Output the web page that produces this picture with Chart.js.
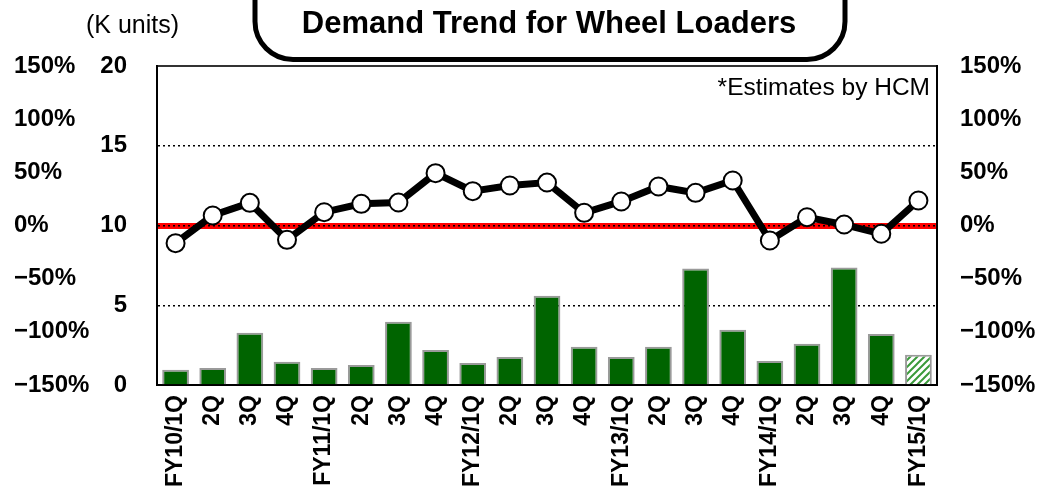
<!DOCTYPE html>
<html lang="en">
<head>
  <meta charset="UTF-8">
  <title>Demand Trend for Wheel Loaders</title>
  <script src="https://cdn.jsdelivr.net/npm/chart.js"></script>
  <style>
    html, body { margin: 0; padding: 0; background: #fff; }
    #wrap { width: 1044px; height: 503px; position: relative; }
  </style>
</head>
<body>
  <div id="wrap"><canvas id="chart"></canvas></div>
  <script>
    // Quarters on the x axis
    const quarters = [
      'FY10/1Q', '2Q', '3Q', '4Q',
      'FY11/1Q', '2Q', '3Q', '4Q',
      'FY12/1Q', '2Q', '3Q', '4Q',
      'FY13/1Q', '2Q', '3Q', '4Q',
      'FY14/1Q', '2Q', '3Q', '4Q',
      'FY15/1Q'
    ]
    // Demand in K units (bars, left axis)
    const demandK = [0.95, 1.07, 3.27, 1.45, 1.07, 1.26, 3.96, 2.2, 1.38, 1.76, 5.6, 2.4,
      1.76, 2.4, 7.3, 3.46, 1.5, 2.58, 7.36, 3.2, 1.89]
    // Year-on-year change in % (line, right axis)
    const yoyPct = [-16.6, 9.4, 21.3, -13.5, 12.5, 20.4, 21.6, 49.2, 32.3, 37.6, 40.4, 11.9,
      22.6, 36.7, 30.7, 42.3, -14.1, 7.8, 0.9, -7.8, 23.5]
    // Last quarter is an estimate (hatched bar)
    const estimated = [false, false, false, false, false, false, false, false, false, false, false,
      false, false, false, false, false, false, false, false, false, true]
    // Axis ticks
    const unitTicks = [0, 5, 10, 15, 20]
    const pctTicks = [-150, -100, -50, 0, 50, 100, 150]

    const fmtPct = v => (v < 0 ? '\u2212' + Math.abs(v) : v) + '%'

    // hatched fill for the estimate bar
    function makeHatch() {
      const c = document.createElement('canvas')
      c.width = 7
      c.height = 7
      const g = c.getContext('2d')
      g.fillStyle = '#ffffff'
      g.fillRect(0, 0, 7, 7)
      g.strokeStyle = '#3a9a3a'
      g.lineWidth = 2
      g.beginPath()
      g.moveTo(-1, 8); g.lineTo(8, -1)
      g.moveTo(-4, 4); g.lineTo(4, -4)
      g.moveTo(3, 11); g.lineTo(11, 3)
      g.stroke()
      return g.createPattern(c, 'repeat')
    }
    const hatch = makeHatch()
    const barColors = estimated.map(e => e ? hatch : '#006400')

    // title box and loose texts
    const decorations = {
      id: 'decorations',
      afterDraw(chart) {
        const ctx = chart.ctx
        ctx.save()
        // rounded title box, top edge lies above the picture
        const l = 255, r = 845, t = -60, b = 59.5, rad = 38
        ctx.lineWidth = 5
        ctx.strokeStyle = '#000'
        ctx.beginPath()
        ctx.moveTo(l, t)
        ctx.lineTo(l, b - rad)
        ctx.arcTo(l, b, l + rad, b, rad)
        ctx.lineTo(r - rad, b)
        ctx.arcTo(r, b, r, b - rad, rad)
        ctx.lineTo(r, t)
        ctx.stroke()

        ctx.fillStyle = '#000'
        ctx.textBaseline = 'alphabetic'
        ctx.textAlign = 'center'
        ctx.font = 'bold 31px "Liberation Sans", Arial, sans-serif'
        ctx.fillText('Demand Trend for Wheel Loaders', 549, 33)

        ctx.textAlign = 'left'
        ctx.font = '25px "Liberation Sans", Arial, sans-serif'
        ctx.fillText('(K units)', 86, 33)

        ctx.textAlign = 'right'
        ctx.font = '24.5px "Liberation Sans", Arial, sans-serif'
        ctx.fillText('*Estimates by HCM', 930, 95)
        ctx.restore()
      }
    }

    const tickFont = { family: '"Liberation Sans", Arial, sans-serif', weight: 'bold', size: 24 }

    new Chart(document.getElementById('chart'), {
      type: 'bar',
      data: {
        labels: quarters,
        datasets: [
          {
            type: 'line',
            label: 'YoY',
            data: yoyPct,
            yAxisID: 'yPct',
            order: 0,
            borderColor: '#000',
            borderWidth: 7,
            tension: 0,
            pointRadius: 9,
            pointBackgroundColor: '#fff',
            pointBorderColor: '#000',
            pointBorderWidth: 2
          },
          {
            type: 'bar',
            label: 'Demand',
            data: demandK,
            yAxisID: 'yK',
            order: 1,
            backgroundColor: barColors,
            borderColor: '#9a9a9a',
            borderWidth: 2,
            barPercentage: 0.72,
            categoryPercentage: 1
          }
        ]
      },
      options: {
        responsive: true,
        maintainAspectRatio: false,
        animation: false,
        layout: { padding: { left: 14, right: 0, top: 66, bottom: 0 } },
        plugins: {
          legend: { display: false },
          tooltip: { enabled: false }
        },
        scales: {
          x: {
            position: 'bottom',
            afterFit: s => { s.height = 118 },
            grid: { display: false, drawTicks: false },
            border: { display: true, color: '#000', width: 2 },
            ticks: {
              autoSkip: false,
              maxRotation: 90,
              minRotation: 90,
              padding: 10,
              color: '#000',
              font: { family: '"Liberation Sans", Arial, sans-serif', weight: 'bold', size: 23 }
            }
          },
          xTop: {
            position: 'top',
            type: 'category',
            afterFit: s => { s.height = 0 },
            grid: { display: false, drawTicks: false },
            ticks: { display: false },
            border: { display: true, color: '#333', width: 2 }
          },
          yPctL: {
            position: 'left',
            weight: 2,
            min: -150,
            max: 150,
            afterFit: s => { s.width = 83 },
            afterBuildTicks: s => { s.ticks = pctTicks.map(v => ({ value: v })) },
            grid: { display: false, drawTicks: false },
            border: { display: false },
            ticks: { crossAlign: 'far', color: '#000', font: tickFont, callback: fmtPct }
          },
          yK: {
            position: 'left',
            weight: 1,
            min: 0,
            max: 20,
            afterFit: s => { s.width = 60 },
            afterBuildTicks: s => { s.ticks = unitTicks.map(v => ({ value: v })) },
            grid: {
              drawTicks: false,
              z: -1,
              lineWidth: 1.5,
              color: ctx => (ctx.tick && (ctx.tick.value === 0 || ctx.tick.value === 20)) ? 'rgba(0,0,0,0)' : '#000'
            },
            border: { display: true, color: '#000', width: 2, dash: [2, 3] },
            ticks: { padding: 30, color: '#000', font: { family: '"Liberation Sans", Arial, sans-serif', weight: 'bold', size: 24 } }
          },
          yPct: {
            position: 'right',
            min: -150,
            max: 150,
            afterFit: s => { s.width = 107 },
            afterBuildTicks: s => { s.ticks = pctTicks.map(v => ({ value: v })) },
            grid: {
              drawTicks: false,
              z: -2,
              color: ctx => (ctx.tick && ctx.tick.value === 0) ? '#ff0000' : 'rgba(0,0,0,0)',
              lineWidth: ctx => (ctx.tick && ctx.tick.value === 0) ? 6 : 0
            },
            border: { display: true, color: '#000', width: 2 },
            ticks: { padding: 23, color: '#000', font: tickFont, callback: fmtPct }
          }
        }
      },
      plugins: [decorations]
    })
  </script>
</body>
</html>
